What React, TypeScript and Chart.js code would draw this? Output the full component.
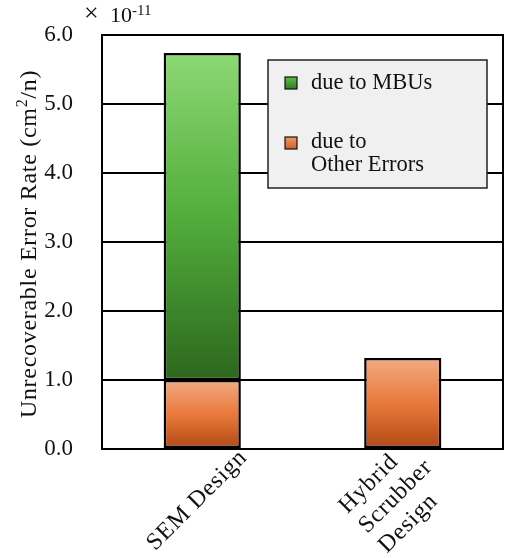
import React, { useEffect, useRef } from "react";
import { Chart, registerables } from "chart.js";

Chart.register(...registerables);

const categories: string[][] = [["SEM Design"], ["Hybrid", "Scrubber", "Design"]];
const otherErrors: (number | null)[] = [1.0, 1.32];
const mbuErrors: (number | null)[] = [4.74, null];
const yMin = 0;
const yMax = 6;
const yStep = 1;
const seriesLabels = ["due to MBUs", ["due to", "Other Errors"]];
const yTitleParts = ["Unrecoverable Error Rate (cm", "2", "/n)"];
const exponentText = ["\u00d7", "10", "-11"];

const FONT = '"Liberation Serif", "Times New Roman", serif';

function gradFor(ctx: any, kind: "green" | "orange") {
  const chart = ctx.chart;
  const area = chart.chartArea;
  const fallback = kind === "green" ? "#5bb146" : "#e8793c";
  if (!area) return fallback;
  const i = ctx.dataIndex;
  const ys = chart.scales.y;
  let lo = 0;
  let hi = 0;
  if (kind === "orange") {
    lo = 0;
    hi = (otherErrors[i] as number) || 0;
  } else {
    lo = (otherErrors[i] as number) || 0;
    hi = lo + ((mbuErrors[i] as number) || 0);
  }
  const top = ys.getPixelForValue(hi);
  const bot = ys.getPixelForValue(lo);
  if (!isFinite(top) || !isFinite(bot) || Math.abs(bot - top) < 1) return fallback;
  const g = chart.ctx.createLinearGradient(0, top, 0, bot);
  if (kind === "green") {
    g.addColorStop(0, "#8dd874");
    g.addColorStop(0.5, "#52ad3c");
    g.addColorStop(1, "#2c671d");
  } else {
    g.addColorStop(0, "#f2ab84");
    g.addColorStop(0.5, "#e8793b");
    g.addColorStop(1, "#b04914");
  }
  return g;
}

const labelShift = [
  { dx: 1, dy: -9 },
  { dx: -1, dy: -19 },
];

const decorPlugin = {
  id: "decor",
  afterDatasetsDraw(chart: any) {
    const { ctx, chartArea } = chart;
    ctx.save();
    ctx.strokeStyle = "#000";
    ctx.lineWidth = 2;
    ctx.strokeRect(chartArea.left, chartArea.top, chartArea.right - chartArea.left, chartArea.bottom - chartArea.top);
    ctx.restore();
  },
  afterDraw(chart: any) {
    const { ctx, chartArea } = chart;
    ctx.save();
    ctx.fillStyle = "#111";

    // y title
    ctx.save();
    (ctx as any).letterSpacing = "0.7px";
    const mainFont = `24px ${FONT}`;
    const supFont = `16px ${FONT}`;
    ctx.font = mainFont;
    const w0 = ctx.measureText(yTitleParts[0]).width;
    ctx.font = supFont;
    const w1 = ctx.measureText(yTitleParts[1]).width;
    ctx.font = mainFont;
    const w2 = ctx.measureText(yTitleParts[2]).width;
    const total = w0 + w1 + w2;
    const cy = 244;
    ctx.translate(36, cy);
    ctx.rotate(-Math.PI / 2);
    ctx.textBaseline = "alphabetic";
    ctx.textAlign = "left";
    let x = -total / 2;
    ctx.fillText(yTitleParts[0], x, 0);
    x += w0;
    ctx.font = supFont;
    ctx.fillText(yTitleParts[1], x, -9);
    x += w1;
    ctx.font = mainFont;
    ctx.fillText(yTitleParts[2], x, 0);
    ctx.restore();

    // exponent
    ctx.textBaseline = "alphabetic";
    ctx.textAlign = "left";
    ctx.font = `26px ${FONT}`;
    ctx.fillText(exponentText[0], 84, 21);
    ctx.font = `22px ${FONT}`;
    ctx.fillText(exponentText[1], 110, 22);
    const w10 = ctx.measureText(exponentText[1]).width;
    ctx.font = `15px ${FONT}`;
    ctx.fillText(exponentText[2], 110 + w10, 15);

    // legend
    const lx = 268, ly = 60, lw = 219, lh = 128;
    ctx.fillStyle = "#f0f0f0";
    ctx.fillRect(lx, ly, lw, lh);
    ctx.strokeStyle = "#222";
    ctx.lineWidth = 1.5;
    ctx.strokeRect(lx, ly, lw, lh);
    const sw = [
      { y: 77, c0: "#5cbf47", c1: "#2f7d22" },
      { y: 137, c0: "#f09a66", c1: "#d0602a" },
    ];
    sw.forEach((s) => {
      const g = ctx.createLinearGradient(0, s.y, 0, s.y + 12);
      g.addColorStop(0, s.c0);
      g.addColorStop(1, s.c1);
      ctx.fillStyle = g;
      ctx.fillRect(285, s.y, 12, 12);
      ctx.strokeStyle = "#111";
      ctx.lineWidth = 1.2;
      ctx.strokeRect(285, s.y, 12, 12);
    });
    ctx.fillStyle = "#111";
    ctx.font = `22.5px ${FONT}`;
    ctx.fillText(seriesLabels[0] as string, 311, 89);
    const l2 = seriesLabels[1] as string[];
    ctx.fillText(l2[0], 311, 148);
    ctx.fillText(l2[1], 311, 171);

    // x labels
    const xs = chart.scales.x;
    (ctx as any).letterSpacing = "0.8px";
    ctx.font = `24px ${FONT}`;
    const L = 28;
    categories.forEach((lines, i) => {
      const tx = xs.getPixelForTick(i);
      let W = 0;
      lines.forEach((t) => (W = Math.max(W, ctx.measureText(t).width)));
      const H = lines.length * L;
      const ext = (W + H) / Math.SQRT2;
      const sh = labelShift[i];
      const cx = tx - 6 + sh.dx;
      const ccy = chartArea.bottom + 4 + ext / 2 + sh.dy;
      ctx.save();
      ctx.translate(cx, ccy);
      ctx.rotate(-Math.PI / 4);
      ctx.textAlign = "left";
      ctx.textBaseline = "middle";
      lines.forEach((t, k) => {
        ctx.fillText(t, -W / 2, (k - (lines.length - 1) / 2) * L);
      });
      ctx.restore();
    });
    ctx.restore();
  },
};

export default function App() {
  const ref = useRef<HTMLCanvasElement | null>(null);
  useEffect(() => {
    if (!ref.current) return;
    const chart = new Chart(ref.current, {
      type: "bar",
      data: {
        labels: categories.map((c) => c.join(" ")),
        datasets: [
          {
            label: "due to Other Errors",
            data: otherErrors,
            backgroundColor: (c: any) => gradFor(c, "orange"),
            borderColor: "#000",
            borderWidth: 2.5,
            borderSkipped: false,
            barPercentage: 0.385,
            categoryPercentage: 1,
          },
          {
            label: "due to MBUs",
            data: mbuErrors,
            backgroundColor: (c: any) => gradFor(c, "green"),
            borderColor: "#000",
            borderWidth: 2.5,
            borderSkipped: false,
            barPercentage: 0.385,
            categoryPercentage: 1,
          },
        ],
      },
      options: {
        responsive: false,
        animation: false,
        layout: { padding: { top: 35, right: 2, left: 0, bottom: 0 } },
        plugins: { legend: { display: false }, tooltip: { enabled: false } },
        scales: {
          x: {
            stacked: true,
            grid: { display: false, drawTicks: false },
            border: { display: true, color: "#000", width: 2 },
            ticks: { display: false },
            afterFit: (s: any) => {
              s.height = 109;
              s.paddingLeft = 0;
              s.paddingRight = 0;
            },
          },
          y: {
            stacked: true,
            min: yMin,
            max: yMax,
            grid: { color: "#000", lineWidth: 2, drawTicks: false },
            border: { display: true, color: "#000", width: 2 },
            ticks: {
              stepSize: yStep,
              padding: 29,
              color: "#111",
              font: { family: FONT, size: 23 },
              callback: (v: any) => Number(v).toFixed(1),
            },
            afterFit: (s: any) => {
              s.width = 102;
              s.paddingTop = 0;
              s.paddingBottom = 0;
            },
          },
        },
      },
      plugins: [decorPlugin],
    } as any);
    return () => chart.destroy();
  }, []);
  return (
    <div style={{ position: "absolute", left: 0, top: 0, width: 505, height: 558, background: "#fff" }}>
      <canvas ref={ref} width={505} height={558} style={{ display: "block" }} />
    </div>
  );
}
